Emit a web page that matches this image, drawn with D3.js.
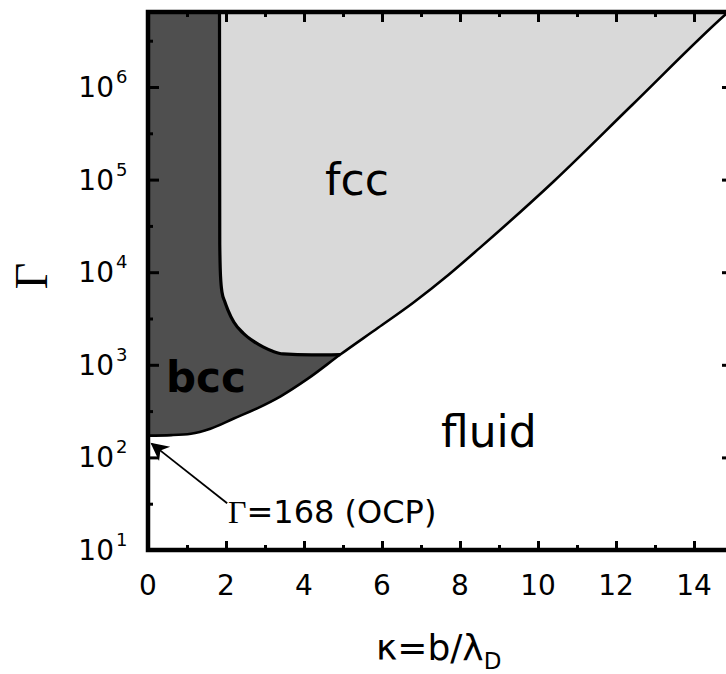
<!DOCTYPE html>
<html><head><meta charset="utf-8">
<script src="https://cdn.jsdelivr.net/npm/d3@7"></script>
<style>body{margin:0;background:#fff}</style>
</head><body>
<svg id="c" width="726" height="674"></svg>
<script>
// ---- data ----
const kappaMajorTicks = [0, 2, 4, 6, 8, 10, 12, 14];
const kappaMinorTicks = [1, 3, 5, 7, 9, 11, 13];
const gammaMajorExps = [1, 2, 3, 4, 5, 6];
const gammaMinorExps = [1.5, 2.5, 3.5, 4.5, 5.5, 6.5];
// fluid / solid melting curve
const fluidKappa = [0, 0.6, 1.1, 1.6, 2.2, 2.8, 3.4, 4.1, 4.93, 5.9, 6.8, 7.7, 8.5, 10.4, 12.4, 14.8, 15.2];
const fluidGamma = [172, 174, 180, 204, 263, 339, 457, 708, 1290, 2510, 4680, 9330, 18200, 95500, 631000, 6.03e6, 8.5e6];
// bcc / fcc boundary
const bccKappa = [1.83, 1.84, 1.86, 1.9, 1.97, 2.05, 2.2, 2.44, 2.7, 2.95, 3.2, 3.46, 4.2, 4.93];
const bccGamma = [1e8, 2e4, 9000, 6000, 4800, 3900, 2900, 2200, 1800, 1560, 1400, 1310, 1280, 1290];
const ocpGamma = 168;
const phaseLabels = ["fcc", "bcc", "fluid"];

// ---- layout ----
const svg = d3.select("#c");
const L = 148, R = 733, T = 12, B = 550;
const x = d3.scaleLinear([0, 15], [L, R]);
const y = d3.scaleLog([10, Math.pow(10, 6.81)], [B, T]);
const font = "'DejaVu Sans', sans-serif";

const defs = svg.append("defs");
defs.append("clipPath").attr("id", "plotClip")
  .append("rect").attr("x", L).attr("y", T).attr("width", R - L).attr("height", B - T);

const fluidPts = fluidKappa.map((k, i) => [x(k), y(fluidGamma[i])]);
const bccPts = bccKappa.map((k, i) => [x(k), y(bccGamma[i])]);
const lineGen = d3.line().curve(d3.curveMonotoneX);
const areaGen = d3.area().curve(d3.curveMonotoneX)
  .x(d => d[0]).y0(T - 50).y1(d => d[1]);

// bcc clip: region left of bcc boundary
const junction = bccPts[bccPts.length - 1];
const bccClipPath = lineGen(bccPts) +
  `L${junction[0]},${B + 20}L${L - 20},${B + 20}L${L - 20},${T - 100}Z`;
defs.append("clipPath").attr("id", "bccClip").append("path").attr("d", bccClipPath);

const g = svg.append("g").attr("clip-path", "url(#plotClip)");
// fcc (solid above fluid curve)
g.append("path").attr("d", areaGen(fluidPts)).attr("fill", "#d9d9d9");
// bcc
g.append("g").attr("clip-path", "url(#bccClip)")
  .append("path").attr("d", areaGen(fluidPts)).attr("fill", "#4f4f4f");
// boundaries
g.append("path").attr("d", lineGen(fluidPts)).attr("fill", "none")
  .attr("stroke", "#000").attr("stroke-width", 2.6);
g.append("path").attr("d", lineGen(bccPts)).attr("fill", "none")
  .attr("stroke", "#000").attr("stroke-width", 3.2);

// ---- axes (inward ticks on all sides) ----
function styleAxis(sel) {
  sel.select(".domain").remove();
  sel.selectAll(".tick line").attr("stroke", "#000").attr("stroke-width", 3);
  sel.selectAll(".tick text").remove();
}
svg.append("g").attr("transform", `translate(0,${B})`)
  .call(d3.axisBottom(x).tickValues(kappaMajorTicks).tickSize(-9)).call(styleAxis);
svg.append("g").attr("transform", `translate(0,${B})`)
  .call(d3.axisBottom(x).tickValues(kappaMinorTicks).tickSize(-5)).call(styleAxis);
svg.append("g").attr("transform", `translate(0,${T})`)
  .call(d3.axisTop(x).tickValues(kappaMajorTicks).tickSize(-10)).call(styleAxis);
svg.append("g").attr("transform", `translate(0,${T})`)
  .call(d3.axisTop(x).tickValues(kappaMinorTicks).tickSize(-5)).call(styleAxis);
const majG = gammaMajorExps.map(e => Math.pow(10, e));
const minG = gammaMinorExps.map(e => Math.pow(10, e));
svg.append("g").attr("transform", `translate(${L},0)`)
  .call(d3.axisLeft(y).tickValues(majG).tickSize(-11)).call(styleAxis);
svg.append("g").attr("transform", `translate(${L},0)`)
  .call(d3.axisLeft(y).tickValues(minG).tickSize(-5)).call(styleAxis);
svg.append("g").attr("transform", `translate(${R},0)`)
  .call(d3.axisRight(y).tickValues(majG).tickSize(-11)).call(styleAxis);
svg.append("g").attr("transform", `translate(${R},0)`)
  .call(d3.axisRight(y).tickValues(minG).tickSize(-5)).call(styleAxis);

// frame
svg.append("rect").attr("x", L).attr("y", T).attr("width", R - L).attr("height", B - T)
  .attr("fill", "none").attr("stroke", "#000").attr("stroke-width", 4.5);

// x tick labels
svg.append("g").selectAll("text").data(kappaMajorTicks).join("text")
  .attr("x", d => x(d)).attr("y", 595).attr("text-anchor", "middle")
  .attr("font-family", font).attr("font-size", 28).text(d => d);

// y tick labels 10^n
const yl = svg.append("g").selectAll("g").data(gammaMajorExps).join("g");
yl.append("text").attr("x", 114).attr("y", d => y(Math.pow(10, d)) + 10)
  .attr("text-anchor", "end").attr("font-family", font).attr("font-size", 28).text("10");
yl.append("text").attr("x", 116).attr("y", d => y(Math.pow(10, d)) - 4)
  .attr("font-family", font).attr("font-size", 18).text(d => d);

// axis titles
svg.append("text").attr("transform", "translate(47,276) rotate(-90)")
  .attr("text-anchor", "middle").attr("font-family", "'Liberation Serif', serif")
  .attr("font-size", 46).text("Γ");
const xt = svg.append("text").attr("x", 376).attr("y", 660)
  .attr("font-family", font).attr("font-size", 36);
xt.append("tspan").text("κ=b/λ");
xt.append("tspan").attr("dy", 9).attr("font-size", 23).text("D");

// phase labels
svg.append("text").attr("x", 325).attr("y", 195).attr("font-family", font)
  .attr("font-size", 44).text(phaseLabels[0]);
svg.append("text").attr("x", 166).attr("y", 392).attr("font-family", font)
  .attr("font-size", 42).attr("font-weight", "bold").text(phaseLabels[1]);
svg.append("text").attr("x", 441).attr("y", 447).attr("font-family", font)
  .attr("font-size", 44).text(phaseLabels[2]);

// OCP annotation with arrow
defs.append("marker").attr("id", "arr").attr("viewBox", "0 0 10 10")
  .attr("refX", 9).attr("refY", 5).attr("markerWidth", 22).attr("markerHeight", 18)
  .attr("markerUnits", "userSpaceOnUse").attr("orient", "auto")
  .append("path").attr("d", "M0,0L10,5L0,10L3,5Z").attr("fill", "#000");
svg.append("line").attr("x1", x(2.03)).attr("y1", y(32)).attr("x2", x(0.1)).attr("y2", y(140))
  .attr("stroke", "#000").attr("stroke-width", 1.8).attr("marker-end", "url(#arr)");
const at = svg.append("text").attr("x", 228).attr("y", 523)
  .attr("font-family", font).attr("font-size", 32);
at.append("tspan").attr("font-family", "'Liberation Serif', serif").text("Γ");
at.append("tspan").text("=" + ocpGamma + " (OCP)");
</script>
</body></html>
